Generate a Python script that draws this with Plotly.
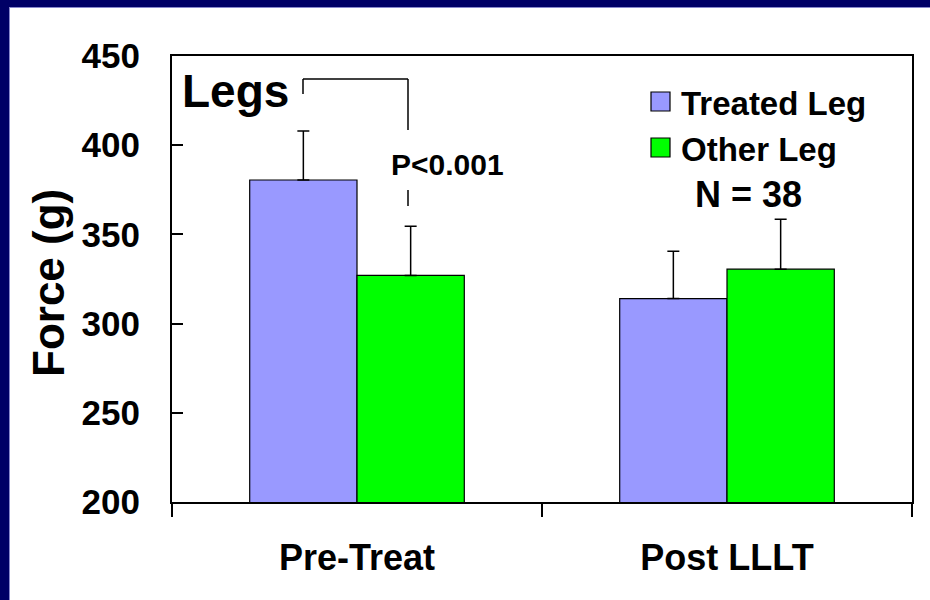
import plotly.graph_objects as go

categories = ["Pre-Treat", "Post LLLT"]
treated_leg = [380.5, 314.0]
treated_err = [27.5, 26.5]
other_leg = [327.0, 330.5]
other_err = [27.5, 28.0]
y_ticks = [200, 250, 300, 350, 400, 450]

FONT = "Arial, 'Liberation Sans', sans-serif"
NAVY = "#000066"

# plot area in pixels
L, R, T, B = 172, 912, 56, 502
W, H = R - L, B - T


def px(x):
    return (x - L) / W


def py(y):
    return (B - y) / H


fig = go.Figure()
fig.add_trace(go.Bar(
    x=categories, y=treated_leg, name="Treated Leg",
    marker=dict(color="#9999FF", line=dict(color="black", width=1.2)),
    error_y=dict(type="data", array=treated_err, arrayminus=[0, 0], symmetric=False,
                 color="black", thickness=1.5, width=6),
    showlegend=False,
))
fig.add_trace(go.Bar(
    x=categories, y=other_leg, name="Other Leg",
    marker=dict(color="#00FF00", line=dict(color="black", width=1.2)),
    error_y=dict(type="data", array=other_err, arrayminus=[0, 0], symmetric=False,
                 color="black", thickness=1.5, width=6),
    showlegend=False,
))

shapes = []
# navy slide frame (top and left)
shapes.append(dict(type="rect", xref="paper", yref="paper", x0=px(0), x1=px(930), y0=py(7), y1=py(0),
                   fillcolor=NAVY, line=dict(width=0), layer="above"))
shapes.append(dict(type="rect", xref="paper", yref="paper", x0=px(0), x1=px(9), y0=py(600), y1=py(0),
                   fillcolor=NAVY, line=dict(width=0), layer="above"))
shapes.append(dict(type="line", xref="paper", yref="paper", x0=px(9.5), x1=px(9.5), y0=py(600), y1=py(7),
                   line=dict(color="#8888cc", width=1), layer="above"))
shapes.append(dict(type="line", xref="paper", yref="paper", x0=px(9), x1=px(930), y0=py(7.5), y1=py(7.5),
                   line=dict(color="#8888cc", width=1), layer="above"))

# significance bracket
bl = dict(color="black", width=1.5)
shapes.append(dict(type="line", xref="paper", yref="paper", x0=px(303), x1=px(303), y0=py(79), y1=py(94), line=bl))
shapes.append(dict(type="line", xref="paper", yref="paper", x0=px(303), x1=px(408), y0=py(79), y1=py(79), line=bl))
shapes.append(dict(type="line", xref="paper", yref="paper", x0=px(408), x1=px(408), y0=py(79), y1=py(130), line=bl))
shapes.append(dict(type="line", xref="paper", yref="paper", x0=px(408), x1=px(408), y0=py(190), y1=py(206), line=bl))

# legend squares
legend_items = [("Treated Leg", "#9999FF", 101.5), ("Other Leg", "#00FF00", 147.5)]
for name, col, cy in legend_items:
    shapes.append(dict(type="rect", xref="paper", yref="paper", x0=px(651), x1=px(670),
                       y0=py(cy + 9.5), y1=py(cy - 9.5), fillcolor=col,
                       line=dict(color="black", width=1.2)))

annotations = []
annotations.append(dict(text="Legs", x=px(235), y=py(91), xref="paper", yref="paper",
                        showarrow=False, xanchor="center", yanchor="middle",
                        font=dict(family=FONT, size=46, color="black", weight="bold")))
annotations.append(dict(text="P<0.001", x=px(447), y=py(164), xref="paper", yref="paper",
                        showarrow=False, xanchor="center", yanchor="middle",
                        font=dict(family=FONT, size=30, color="black", weight="bold")))
annotations.append(dict(text="N = 38", x=px(748), y=py(194), xref="paper", yref="paper",
                        showarrow=False, xanchor="center", yanchor="middle",
                        font=dict(family=FONT, size=36, color="black", weight="bold")))
for name, col, cy in legend_items:
    annotations.append(dict(text=name, x=px(679), y=py(cy + 2), xref="paper", yref="paper",
                            showarrow=False, xanchor="left", yanchor="middle",
                            font=dict(family=FONT, size=33, color="black", weight="bold")))
annotations.append(dict(text="Force (g)", x=px(48), y=py(283), xref="paper", yref="paper",
                        showarrow=False, xanchor="center", yanchor="middle", textangle=-90,
                        font=dict(family=FONT, size=44, color="black", weight="bold")))

fig.update_layout(
    width=930, height=600,
    margin=dict(l=L, r=930 - R, t=T, b=600 - B),
    paper_bgcolor="white", plot_bgcolor="white",
    barmode="group", bargap=0.42, bargroupgap=0,
    font=dict(family=FONT, color="black"),
    shapes=shapes, annotations=annotations,
    xaxis=dict(
        type="category", range=[-0.5, 1.5], tickson="boundaries",
        ticks="outside", ticklen=13, tickwidth=1.5, tickcolor="black",
        showline=True, linecolor="black", linewidth=2, mirror=True,
        showgrid=False, ticklabelstandoff=23,
        tickfont=dict(family=FONT, size=36, color="black", weight="bold"),
    ),
    yaxis=dict(
        range=[200, 450], tickvals=y_ticks,
        ticks="inside", ticklen=11, tickwidth=1.5, tickcolor="black",
        showline=True, linecolor="black", linewidth=2, mirror=True,
        showgrid=False, zeroline=False, ticklabelstandoff=23,
        tickfont=dict(family=FONT, size=35, color="black", weight="bold"),
    ),
)

fig.write_html("out.html")
